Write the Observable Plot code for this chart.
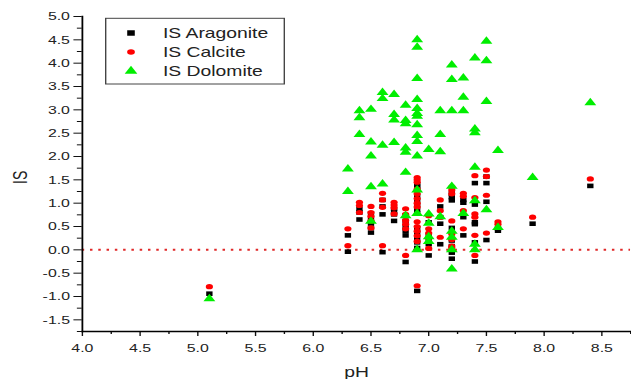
<!DOCTYPE html>
<html>
<head>
<meta charset="utf-8">
<script src="https://cdn.jsdelivr.net/npm/d3@7"></script>
<script src="https://cdn.jsdelivr.net/npm/@observablehq/plot@0.6"></script>
<style>
html, body { margin: 0; padding: 0; background: #fff; overflow: hidden; }
</style>
</head>
<body>
<div id="chart"></div>
<script>
// ---- data ----
const minerals = ["IS Aragonite", "IS Calcite", "IS Dolomite"];
const colors = ["#000000", "#ff0000", "#00ee00"];
const symbols = ["square", "circle", "triangle"];

const phLevels = [5.1, 6.3, 6.4, 6.5, 6.6, 6.7, 6.8, 6.9, 7.0, 7.1, 7.2, 7.3, 7.4, 7.5, 7.6, 7.9, 8.4];

const aragonite = [
  [-0.94],
  [0.31, -0.04],
  [0.88, 0.80, 0.65],
  [0.78, 0.66, 0.58, 0.48, 0.37],
  [1.07, 0.93, 0.76, -0.05],
  [0.88, 0.82, 0.76, 0.62],
  [0.74, 0.62, 0.49, 0.41, 0.31, -0.26],
  [1.41, 1.36, 1.31, 1.16, 1.06, 0.96, 0.86, 0.78, 0.46, 0.36, 0.26, 0.16, 0.04, -0.88],
  [0.59, 0.31, 0.22, 0.12, -0.12],
  [0.93, 0.70, 0.56, 0.12],
  [1.21, 1.13, 1.06, 0.47, 0.20, 0.08, -0.06, -0.19],
  [1.07, 1.01, 0.70, 0.31],
  [1.43, 0.97, 0.59, 0.55, 0.16, -0.25],
  [1.57, 1.43, 1.03, 0.21],
  [0.46, 0.41],
  [0.56],
  [1.37]
];

const calcite = [
  [-0.79],
  [0.45, 0.09],
  [1.02, 0.95, 0.80],
  [0.93, 0.80, 0.72, 0.62, 0.47],
  [1.21, 1.07, 0.91, 0.09],
  [1.02, 0.96, 0.90, 0.77],
  [0.88, 0.76, 0.63, 0.55, 0.45, -0.12],
  [1.55, 1.50, 1.45, 1.30, 1.20, 1.10, 1.00, 0.92, 0.60, 0.50, 0.40, 0.30, 0.18, -0.77],
  [0.73, 0.45, 0.36, 0.26, 0.03],
  [1.07, 0.84, 0.70, 0.27],
  [1.35, 1.28, 1.20, 0.62, 0.34, 0.22, 0.08, 0.04],
  [1.21, 1.15, 0.84, 0.45],
  [1.59, 1.12, 0.77, 0.70, 0.31, -0.12],
  [1.71, 1.57, 1.17, 0.36],
  [0.60, 0.55],
  [0.70],
  [1.52]
];

const dolomite = [
  [-1.05],
  [1.73, 1.25],
  [2.98, 2.83, 2.47],
  [3.01, 2.31, 2.01, 1.35, 0.61],
  [3.37, 3.24, 2.24, 1.41],
  [3.33, 2.90, 2.78, 2.30],
  [3.10, 2.77, 2.70, 2.18, 2.09, 1.66, 0.73],
  [4.50, 4.34, 3.67, 3.22, 3.03, 2.92, 2.86, 2.68, 2.45, 2.32, 2.01, 1.28, 0.78, 0.00],
  [2.15, 0.77, 0.57, 0.28, 0.18],
  [2.98, 2.47, 2.10, 0.71],
  [3.96, 3.65, 2.98, 1.36, 0.40, 0.27, 0.00, -0.41],
  [3.68, 3.27, 2.98, 0.78],
  [4.11, 2.59, 2.51, 1.77, 1.05, 0.12, 0.00],
  [4.47, 4.05, 3.18, 0.86],
  [2.13, 0.48],
  [1.55],
  [3.15]
];

const xTicks = [4.0, 4.5, 5.0, 5.5, 6.0, 6.5, 7.0, 7.5, 8.0, 8.5];
const xMinor = [4.25, 4.75, 5.25, 5.75, 6.25, 6.75, 7.25, 7.75, 8.25, 8.75];
const yTicks = [-1.5, -1.0, -0.5, 0.0, 0.5, 1.0, 1.5, 2.0, 2.5, 3.0, 3.5, 4.0, 4.5, 5.0];
const yMinor = [-1.75, -1.25, -0.75, -0.25, 0.25, 0.75, 1.25, 1.75, 2.25, 2.75, 3.25, 3.75, 4.25, 4.75];
const xLabel = "pH";
const yLabel = "IS";

// ---- build tables ----
function rowsFor(series) {
  const out = [];
  series.forEach((vals, i) => vals.forEach(v => out.push({pH: phLevels[i], IS: v})));
  return out;
}
const seriesRows = [rowsFor(aragonite), rowsFor(calcite), rowsFor(dolomite)];
const dotR = [2.6, 2.6, 3.2];

// the reference image is horizontally stretched; draw in a narrower space and stretch
const OUT_W = 631, H = 379;
const W = 457;
const K = OUT_W / W;
const fmt = d => d.toFixed(1);

const chart = Plot.plot({
  width: W,
  height: H,
  marginLeft: 81.7 / K,
  marginRight: 0.7,
  marginTop: 16,
  marginBottom: 48,
  style: {fontFamily: "'Liberation Sans', Arial, sans-serif", fontSize: "11.5px", color: "#222", background: "#fff"},
  x: {domain: [4.0, 8.75]},
  y: {domain: [-1.75, 5.0]},
  marks: [
    Plot.ruleY([0], {stroke: "#e02828", strokeWidth: 2, strokeDasharray: "1.8,4.2"}),
    ...seriesRows.map((rows, i) => Plot.dot(rows, {x: "pH", y: "IS", symbol: () => symbols[i], fill: colors[i], stroke: "none", r: dotR[i]})),
    Plot.axisX(xTicks, {tickSize: 5, tickPadding: 7, tickFormat: fmt, label: null, stroke: "#111"}),
    Plot.axisX(xMinor, {tickSize: 3, text: null, label: null, stroke: "#111"}),
    Plot.axisY(yTicks, {tickSize: 6, tickPadding: 3, tickFormat: fmt, label: null, stroke: "#111"}),
    Plot.axisY(yMinor, {tickSize: 3.5, text: null, label: null, stroke: "#111"}),
    Plot.frame({anchor: "left", stroke: "#000", strokeWidth: 1.3}),
    Plot.frame({anchor: "bottom", stroke: "#000", strokeWidth: 1.3}),
    Plot.text([xLabel], {frameAnchor: "bottom", dy: 41, fontSize: 14, lineAnchor: "middle", fill: "#222"}),
    Plot.text([yLabel], {frameAnchor: "left", dx: -44.5, dy: 10, rotate: -90, fontSize: 14, lineAnchor: "middle", fill: "#222"})
  ]
});

// legend inside the plot
const svg = d3.select(chart);
const lg = svg.append("g")
  .attr("font-family", "'Liberation Sans', Arial, sans-serif")
  .attr("font-size", 14)
  .attr("text-anchor", "start");
lg.append("rect")
  .attr("x", 105.7 / K).attr("y", 18.3)
  .attr("width", (284.3 - 105.7) / K).attr("height", 65.7)
  .attr("fill", "#fff").attr("stroke", "#444").attr("stroke-width", 1);
const symFns = {square: d3.symbolSquare, circle: d3.symbolCircle, triangle: d3.symbolTriangle};
const legR = [3.1, 2.8, 3.4];
minerals.forEach((m, i) => {
  const cy = 33 + i * 19;
  lg.append("path")
    .attr("transform", `translate(${131 / K},${cy})`)
    .attr("d", d3.symbol(symFns[symbols[i]], Math.PI * legR[i] * legR[i])())
    .attr("fill", colors[i]);
  lg.append("text")
    .attr("x", 163 / K).attr("y", cy).attr("dy", "0.35em")
    .attr("text-anchor", "start")
    .attr("fill", "#222").text(m);
});

chart.setAttribute("width", OUT_W);
chart.setAttribute("height", H);
chart.setAttribute("preserveAspectRatio", "none");
chart.style.width = OUT_W + "px";
chart.style.height = H + "px";
chart.style.maxWidth = "none";
chart.style.display = "block";
document.getElementById("chart").appendChild(chart);
</script>
</body>
</html>
